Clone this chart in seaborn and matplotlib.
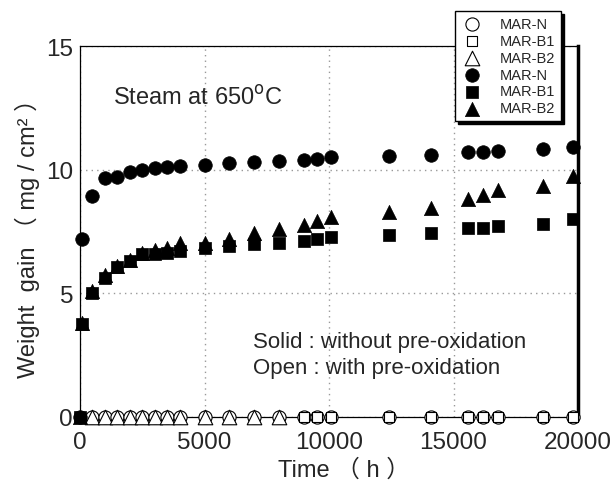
import numpy as np
import matplotlib
matplotlib.use('Agg')
import matplotlib.pyplot as plt
import seaborn as sns

# time (h) of each weighing
time = [0, 100, 500, 1000, 1500, 2000, 2500, 3000, 3500, 4000, 5000, 6000, 7000,
        8000, 9000, 9500, 10100, 12400, 14100, 15600, 16200, 16800, 18600, 19800]

# solid: without pre-oxidation (mg/cm2)
mar_n = [0, 7.2, 8.95, 9.65, 9.7, 9.9, 10.0, 10.05, 10.1, 10.15, 10.2, 10.25, 10.3,
         10.35, 10.4, 10.45, 10.5, 10.55, 10.6, 10.7, 10.72, 10.77, 10.82, 10.9]
mar_b1 = [0, 3.75, 5.0, 5.6, 6.05, 6.3, 6.6, 6.6, 6.65, 6.7, 6.85, 6.9, 7.0,
          7.05, 7.12, 7.2, 7.26, 7.37, 7.43, 7.63, 7.66, 7.74, 7.82, 8.0]
mar_b2 = [0, 3.8, 5.1, 5.75, 6.1, 6.35, 6.65, 6.75, 6.85, 7.05, 7.05, 7.2, 7.43,
          7.6, 7.77, 7.93, 8.1, 8.3, 8.47, 8.8, 8.98, 9.18, 9.35, 9.74]

# open: with pre-oxidation (mg/cm2), None = not measured / hidden
pre_n = [None, None, 0, 0, 0, 0, 0, 0, 0, 0, 0, 0, 0,
         0, 0, 0, 0, 0, 0, 0, 0, 0, 0, 0]
pre_b1 = [None, None, None, None, None, None, None, None, None, None, None, None, None,
          None, 0, 0, 0, 0, 0, 0, 0, 0, 0, 0]
pre_b2 = [None, None, 0, 0, 0, 0, 0, 0, 0, 0, 0, 0, 0,
          0, None, None, None, None, None, None, None, None, None, None]

labels = ['MAR-N', 'MAR-B1', 'MAR-B2']

sns.set_style('white')
plt.rcParams['font.family'] = ['Liberation Sans', 'Noto Sans CJK JP', 'DejaVu Sans']

fig = plt.figure(figsize=(6.11, 4.89), dpi=100)
ax = fig.add_axes([80 / 611, 1 - 418 / 489, 498 / 611, 371 / 489])

t = np.array(time, dtype=float)

def arr(v):
    return np.array([np.nan if x is None else x for x in v], dtype=float)

open_styles = [('o', 90), ('s', 60), ('^', 110)]
solid_styles = [('o', 95), ('s', 80), ('^', 105)]

for vals, lab, (mk, s) in zip([pre_n, pre_b1, pre_b2], labels, open_styles):
    sns.scatterplot(x=t, y=arr(vals), marker=mk, s=s, color='white',
                    edgecolor='black', linewidth=0.8, label=lab, ax=ax,
                    clip_on=False, zorder=3)

for vals, lab, (mk, s) in zip([mar_n, mar_b1, mar_b2], labels, solid_styles):
    sns.scatterplot(x=t, y=arr(vals), marker=mk, s=s, color='black',
                    edgecolor='black', linewidth=0.5, label=lab, ax=ax,
                    clip_on=False, zorder=4)

ax.set_xlim(0, 20000)
ax.set_ylim(0, 15)
ax.set_xticks([0, 5000, 10000, 15000, 20000])
ax.set_yticks([0, 5, 10, 15])
ax.grid(True, color='#999999', linestyle=(0, (1, 3)), linewidth=1)
ax.tick_params(direction='in', length=6, width=0.8, labelsize=17.5, pad=5)
ax.tick_params(axis='x', pad=10)

for side in ['left', 'top', 'bottom']:
    ax.spines[side].set_linewidth(0.9)
    ax.spines[side].set_color('black')
ax.spines['right'].set_linewidth(2.5)
ax.spines['right'].set_color('black')

ax.set_xlabel('Time （ h ）', fontsize=17)
ax.xaxis.set_label_coords(0.53, -0.11)
ax.set_ylabel('Weight  gain （ mg / cm² ）', fontsize=17, labelpad=4)

ax.text(0.066, 0.845, 'Steam at 650$^{\\rm o}$C', transform=ax.transAxes, fontsize=17)
ax.text(0.348, 0.19, 'Solid : without pre-oxidation', transform=ax.transAxes, fontsize=16)
ax.text(0.348, 0.118, 'Open : with pre-oxidation', transform=ax.transAxes, fontsize=16)

leg = ax.legend(loc='upper left', bbox_to_anchor=(455 / 611, 1 - 12 / 489),
                bbox_transform=fig.transFigure, fontsize=10.5, frameon=True,
                fancybox=False, framealpha=1, edgecolor='black',
                shadow={'color': 'black', 'alpha': 1},
                labelspacing=0.2, handletextpad=1.2, borderpad=0.4,
                handlelength=1.5, borderaxespad=0)
leg.get_frame().set_linewidth(1)
leg.set_zorder(10)

fig.savefig('out.png', dpi=100)
